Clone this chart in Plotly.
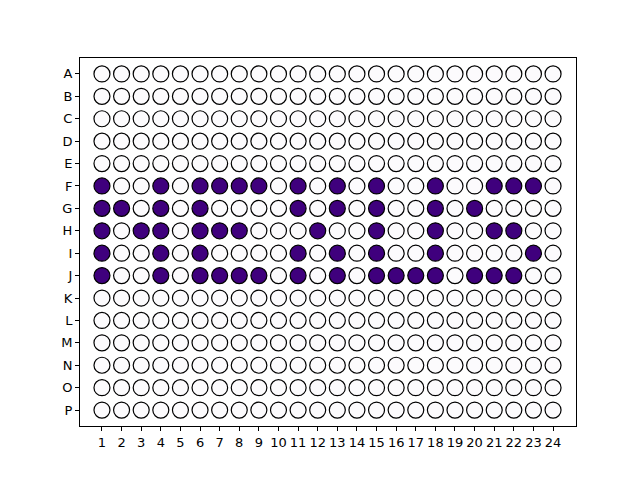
import plotly.graph_objects as go

rows = list("ABCDEFGHIJKLMNOP")
cols = list(range(1, 25))

# filled wells per row (column numbers); all other wells empty
filled = {
    "F": [1, 4, 6, 7, 8, 9, 11, 13, 15, 18, 21, 22, 23],
    "G": [1, 2, 4, 6, 11, 13, 15, 18, 20],
    "H": [1, 3, 4, 6, 7, 8, 12, 15, 18, 21, 22],
    "I": [1, 4, 6, 11, 13, 15, 18, 23],
    "J": [1, 4, 6, 7, 8, 9, 11, 13, 15, 16, 17, 18, 20, 21, 22],
}

xs, ys, colors = [], [], []
for ri, r in enumerate(rows):
    for c in cols:
        xs.append(c)
        ys.append(ri)
        colors.append("#3f007d" if c in filled.get(r, []) else "#fcfbfd")

fig = go.Figure(go.Scatter(
    x=xs, y=ys, mode="markers",
    marker=dict(size=16, color=colors, line=dict(color="black", width=1.2)),
    hoverinfo="skip",
))

fig.update_layout(
    width=640, height=480,
    margin=dict(l=80, r=64, t=58, b=54),
    paper_bgcolor="white", plot_bgcolor="white",
    showlegend=False,
    font=dict(family="DejaVu Sans", size=13, color="black"),
)
fig.update_xaxes(
    range=[-0.12, 25.17], tickmode="array", tickvals=cols,
    ticktext=[str(c) for c in cols], showgrid=False, zeroline=False,
    showline=True, linecolor="black", linewidth=1, mirror=True,
    ticks="outside", ticklen=4, tickcolor="black", tickfont=dict(size=13),
)
fig.update_yaxes(
    range=[15.71, -0.71], tickmode="array", tickvals=list(range(16)),
    ticktext=rows, showgrid=False, zeroline=False,
    showline=True, linecolor="black", linewidth=1, mirror=True,
    ticks="outside", ticklen=4, tickcolor="black", tickfont=dict(size=13),
)

fig.write_html("out.html")
